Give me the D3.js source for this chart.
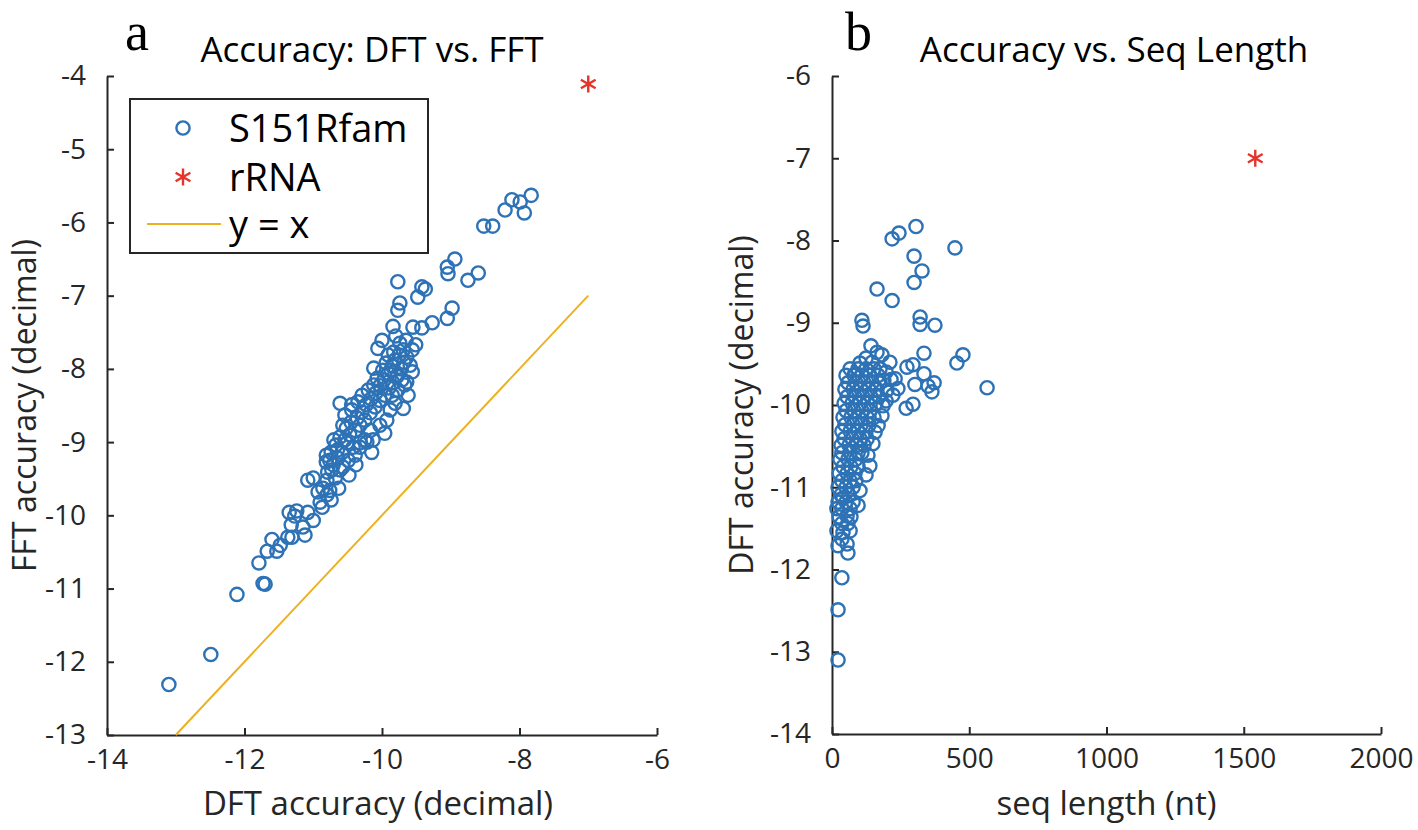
<!DOCTYPE html>
<html><head><meta charset="utf-8">
<script src="https://cdn.jsdelivr.net/npm/d3@7"></script>
<style>
html,body{margin:0;padding:0;background:#fff;}
svg text{font-family:"Open Sans",sans-serif;}
</style></head>
<body>
<svg id="chart" width="1418" height="830"></svg>
<script>
// ---------- Panel a: DFT vs FFT accuracy (S151Rfam) ----------
const aDft = [
-13.10,-12.49,-12.11,-11.73,-11.70,-11.79,-11.67,-11.53,-11.60,-11.37,
-11.31,-11.32,-11.35,-11.24,-11.27,-11.15,-11.08,-10.90,-10.87,-11.08,
-11.00,-10.86,-10.80,-10.73,-10.76,-10.65,-10.57,-10.51,-10.42,-10.32,
-10.22,-10.13,-10.61,-10.44,-9.93,-9.77,-8.94,-9.05,-9.04,-8.75,
-8.60,-9.42,-9.37,-9.48,-9.74,-9.77,-8.98,-9.05,-9.27,-9.42,
-9.55,-9.84,-10.00,-10.06,-9.56,-9.71,-9.64,-7.83,-7.93,-7.99,
-8.11,-8.21,-8.39,-8.52,
-10.79,-10.71,-10.81,-10.64,-10.74,-10.58,-10.67,-10.54,-10.61,-10.47,
-10.52,-10.39,-10.45,-10.32,-10.36,-10.25,-10.29,-10.17,-10.23,-10.10,
-10.16,-10.03,-10.09,-9.96,-10.03,-9.90,-9.97,-9.84,-9.91,-9.78,
-9.85,-9.72,-9.81,-9.68,-9.75,-9.64,-9.83,-9.69,-9.59,-9.87,
-9.77,-9.81,-9.88,-10.03,-10.17,-10.32,-10.39,-10.49,-10.61,-10.68,
-10.76,-10.80,-10.93,-10.54,-10.35,-10.20,-10.07,-9.94,-9.74,-9.80,
-9.65,-9.91,-9.99,-10.12,-10.29,-10.44,-10.57,-10.70,-9.56,-9.62,
-9.69,-9.96,-10.15,-10.25,-10.38,-10.48,-10.63,-10.74,-11.00,-11.12,
-11.48,-10.81,-9.77,-9.67,-9.85,-9.51,-10.12
];
const aFft = [
-12.31,-11.90,-11.08,-10.93,-10.94,-10.65,-10.49,-10.49,-10.33,-10.30,
-10.30,-10.13,-9.96,-9.94,-10.01,-10.16,-9.96,-9.82,-9.89,-9.52,
-9.49,-9.63,-9.52,-9.38,-9.25,-9.11,-9.34,-9.01,-9.07,-9.01,
-9.00,-8.97,-8.47,-8.49,-8.70,-6.81,-6.50,-6.61,-6.70,-6.79,
-6.69,-6.88,-6.91,-7.02,-7.10,-7.20,-7.17,-7.31,-7.37,-7.44,
-7.43,-7.42,-7.61,-7.72,-7.74,-8.15,-8.18,-5.63,-5.87,-5.72,
-5.69,-5.83,-6.05,-6.05,
-9.41,-9.31,-9.27,-9.22,-9.14,-9.14,-9.04,-8.97,-8.93,-8.90,
-8.81,-8.84,-8.73,-8.77,-8.67,-8.70,-8.59,-8.60,-8.49,-8.52,
-8.41,-8.43,-8.33,-8.36,-8.23,-8.26,-8.15,-8.19,-8.06,-8.10,
-7.96,-8.00,-7.88,-7.91,-7.81,-7.84,-7.77,-7.74,-7.95,-8.02,
-8.29,-8.47,-8.56,-8.77,-8.84,-9.07,-9.18,-9.25,-9.38,-9.49,
-9.66,-9.72,-9.68,-8.63,-8.45,-8.29,-8.13,-7.92,-7.65,-7.55,
-7.61,-7.81,-8.02,-8.22,-8.36,-8.56,-8.77,-8.97,-8.04,-8.36,
-8.54,-8.88,-9.14,-8.97,-9.31,-9.45,-9.63,-9.79,-10.07,-10.27,
-10.41,-9.18,-8.08,-8.22,-8.36,-7.67,-7.99
];
const rrnaDft = [-7.0];
const rrnaFft = [-4.11];
const refLine = [-13, -7];           // y = x segment endpoints

// ---------- Panel b: DFT accuracy vs sequence length ----------
const bLen = [
306,244,219,448,299,328,299,164,219,109,
113,321,321,375,142,164,182,335,211,477,
455,102,87,273,295,335,215,302,350,372,
364,565,200,182,270,295,149,131,36,40,
18,55,40,22,55,58,36,22,22,189,
66,95,124,153,
51,80,109,138,168,
58,87,117,146,175,
47,77,106,135,164,
55,84,113,142,171,
44,73,102,131,160,
51,80,109,138,
40,69,98,128,153,
47,77,106,135,
36,66,95,124,
44,73,102,128,
33,62,91,117,
66,95,109,
29,58,87,
40,69,95,
26,55,84,
36,66,87,
22,51,77,
33,62,
22,51,77,
36,66,
26,69,
36,58,
18,66,
36,
124,146,175,197,230,240,222,197,186,168,157,138,124,102,95
];
const bAcc = [
-7.83,-7.91,-7.98,-8.09,-8.19,-8.37,-8.51,-8.59,-8.73,-8.97,
-9.04,-8.93,-9.02,-9.03,-9.28,-9.36,-9.39,-9.37,-9.48,-9.39,
-9.49,-9.49,-9.62,-9.54,-9.51,-9.62,-9.69,-9.75,-9.77,-9.73,
-9.84,-9.79,-9.82,-10.13,-10.04,-9.99,-10.47,-10.61,-10.58,-11.13,
-11.26,-11.35,-11.55,-11.71,-11.69,-11.80,-12.10,-12.49,-13.10,-9.70,
-9.56,-9.56,-9.56,-9.56,
-9.64,-9.64,-9.64,-9.64,-9.64,
-9.73,-9.73,-9.73,-9.73,-9.73,
-9.81,-9.81,-9.81,-9.81,-9.81,
-9.90,-9.90,-9.90,-9.90,-9.90,
-9.98,-9.98,-9.98,-9.98,-9.98,
-10.07,-10.07,-10.07,-10.07,
-10.15,-10.15,-10.15,-10.15,-10.15,
-10.24,-10.24,-10.24,-10.24,
-10.32,-10.32,-10.32,-10.32,
-10.41,-10.41,-10.41,-10.41,
-10.49,-10.49,-10.49,-10.49,
-10.58,-10.58,-10.58,
-10.66,-10.66,-10.66,
-10.75,-10.75,-10.75,
-10.83,-10.83,-10.83,
-10.92,-10.92,-10.92,
-11.00,-11.00,-11.00,
-11.09,-11.09,
-11.18,-11.18,-11.18,
-11.26,-11.26,
-11.36,-11.36,
-11.44,-11.44,
-11.53,-11.53,
-11.63,
-9.43,-9.48,-9.56,-9.60,-9.68,-9.80,-9.88,-9.95,-10.01,-10.25,-10.33,-10.74,-10.85,-11.04,-11.22
];
const rrnaLen = [1542];
const rrnaAcc = [-7.0];

// ---------- ticks & labels ----------
const aXTicks = [-14,-12,-10,-8,-6];
const aYTicks = [-13,-12,-11,-10,-9,-8,-7,-6,-5,-4];
const bXTicks = [0,500,1000,1500,2000];
const bYTicks = [-14,-13,-12,-11,-10,-9,-8,-7,-6];
const legendLabels = ["S151Rfam","rRNA","y = x"];

// ---------- drawing ----------
const BLUE = "#2e72b6", RED = "#e5342a", GOLD = "#EDB120", AX = "#262626";
const R = 6.6, SW = 2.4;
const svg = d3.select("#chart");

const xA = d3.scaleLinear().domain([-14,-6]).range([107,657]);
const yA = d3.scaleLinear().domain([-13,-4]).range([735,76]);
const xB = d3.scaleLinear().domain([0,2000]).range([832,1381]);
const yB = d3.scaleLinear().domain([-14,-6]).range([734,76]);

function starPath(r){
  const a = Math.PI/6;
  const c = Math.cos(a)*r, s = Math.sin(a)*r;
  return `M0,${-r}L0,${r}M${-c},${-s}L${c},${s}M${-c},${s}L${c},${-s}`;
}

function drawAxes(x, y, xt, yt){
  const gx = svg.append("g").attr("transform",`translate(0,${y.range()[0]})`)
    .call(d3.axisBottom(x).tickValues(xt).tickFormat(d=>String(d)).tickSizeInner(-7).tickSizeOuter(0).tickPadding(14));
  const gy = svg.append("g").attr("transform",`translate(${x.range()[0]},0)`)
    .call(d3.axisLeft(y).tickValues(yt).tickFormat(d=>String(d)).tickSizeInner(-7).tickSizeOuter(0).tickPadding(21));
  [gx,gy].forEach(g=>{
    g.select(".domain").attr("stroke",AX).attr("stroke-width",2);
    g.selectAll(".tick line").attr("stroke",AX).attr("stroke-width",2);
    g.selectAll(".tick text").attr("fill",AX).style("font-size","28px").style("font-family","'Open Sans',sans-serif");
  });
  gx.selectAll(".tick text").attr("dy","0.72em");
}

// Panel a
drawAxes(xA, yA, aXTicks, aYTicks);
svg.append("line")
  .attr("x1", xA(refLine[0])).attr("y1", yA(refLine[0]))
  .attr("x2", xA(refLine[1])).attr("y2", yA(refLine[1]))
  .attr("stroke", GOLD).attr("stroke-width", 2);
svg.append("g").selectAll("circle").data(d3.range(aDft.length)).join("circle")
  .attr("cx", i=>xA(aDft[i])).attr("cy", i=>yA(aFft[i])).attr("r", R)
  .attr("fill","none").attr("stroke",BLUE).attr("stroke-width",SW);
svg.append("g").selectAll("path").data(rrnaDft.map((d,i)=>[d,rrnaFft[i]])).join("path")
  .attr("transform", d=>`translate(${xA(d[0])},${yA(d[1])})`)
  .attr("d", starPath(8.5)).attr("stroke",RED).attr("stroke-width",2.4).attr("fill","none");

// Panel b
drawAxes(xB, yB, bXTicks, bYTicks);
svg.append("g").selectAll("circle").data(d3.range(bLen.length)).join("circle")
  .attr("cx", i=>xB(bLen[i])).attr("cy", i=>yB(bAcc[i])).attr("r", R)
  .attr("fill","none").attr("stroke",BLUE).attr("stroke-width",SW);
svg.append("g").selectAll("path").data(rrnaLen.map((d,i)=>[d,rrnaAcc[i]])).join("path")
  .attr("transform", d=>`translate(${xB(d[0])},${yB(d[1])})`)
  .attr("d", starPath(8.5)).attr("stroke",RED).attr("stroke-width",2.4).attr("fill","none");

// Legend (panel a)
const lg = svg.append("g");
lg.append("rect").attr("x",130).attr("y",99).attr("width",298).attr("height",154)
  .attr("fill","#fff").attr("stroke",AX).attr("stroke-width",2);
const rows = [128,177,224];
lg.append("circle").attr("cx",183).attr("cy",rows[0]).attr("r",R)
  .attr("fill","none").attr("stroke",BLUE).attr("stroke-width",SW);
lg.append("path").attr("transform",`translate(183,${rows[1]})`).attr("d",starPath(8.5))
  .attr("stroke",RED).attr("stroke-width",2.4).attr("fill","none");
lg.append("line").attr("x1",147).attr("x2",221).attr("y1",rows[2]).attr("y2",rows[2])
  .attr("stroke",GOLD).attr("stroke-width",2);
legendLabels.forEach((t,i)=>{
  lg.append("text").attr("x",229).attr("y",rows[i]).attr("dy","0.36em")
    .attr("fill","#000").style("font-size","38px").text(t);
});

// Titles, panel letters, axis labels
svg.append("text").attr("x",125).attr("y",50).style("font-family","'Liberation Serif',serif")
  .style("font-size","54px").attr("fill","#000").text("a");
svg.append("text").attr("x",845).attr("y",50).style("font-family","'Liberation Serif',serif")
  .style("font-size","54px").attr("fill","#000").text("b");
svg.append("text").attr("x",372).attr("y",62).attr("text-anchor","middle")
  .style("font-size","35px").attr("fill","#000").text("Accuracy: DFT vs. FFT");
svg.append("text").attr("x",1114).attr("y",62).attr("text-anchor","middle")
  .style("font-size","35px").attr("fill","#000").text("Accuracy vs. Seq Length");
svg.append("text").attr("x",xA(-10)-4).attr("y",815).attr("text-anchor","middle")
  .style("font-size","33px").attr("fill",AX).text("DFT accuracy (decimal)");
svg.append("text").attr("x",xB(1000)).attr("y",815).attr("text-anchor","middle")
  .style("font-size","33px").attr("fill",AX).text("seq length (nt)");
svg.append("text").attr("transform",`translate(36,${(76+735)/2}) rotate(-90)`).attr("text-anchor","middle")
  .style("font-size","32px").attr("fill",AX).text("FFT accuracy (decimal)");
svg.append("text").attr("transform",`translate(753,${(76+734)/2}) rotate(-90)`).attr("text-anchor","middle")
  .style("font-size","32px").attr("fill",AX).text("DFT accuracy (decimal)");
</script>
</body></html>
